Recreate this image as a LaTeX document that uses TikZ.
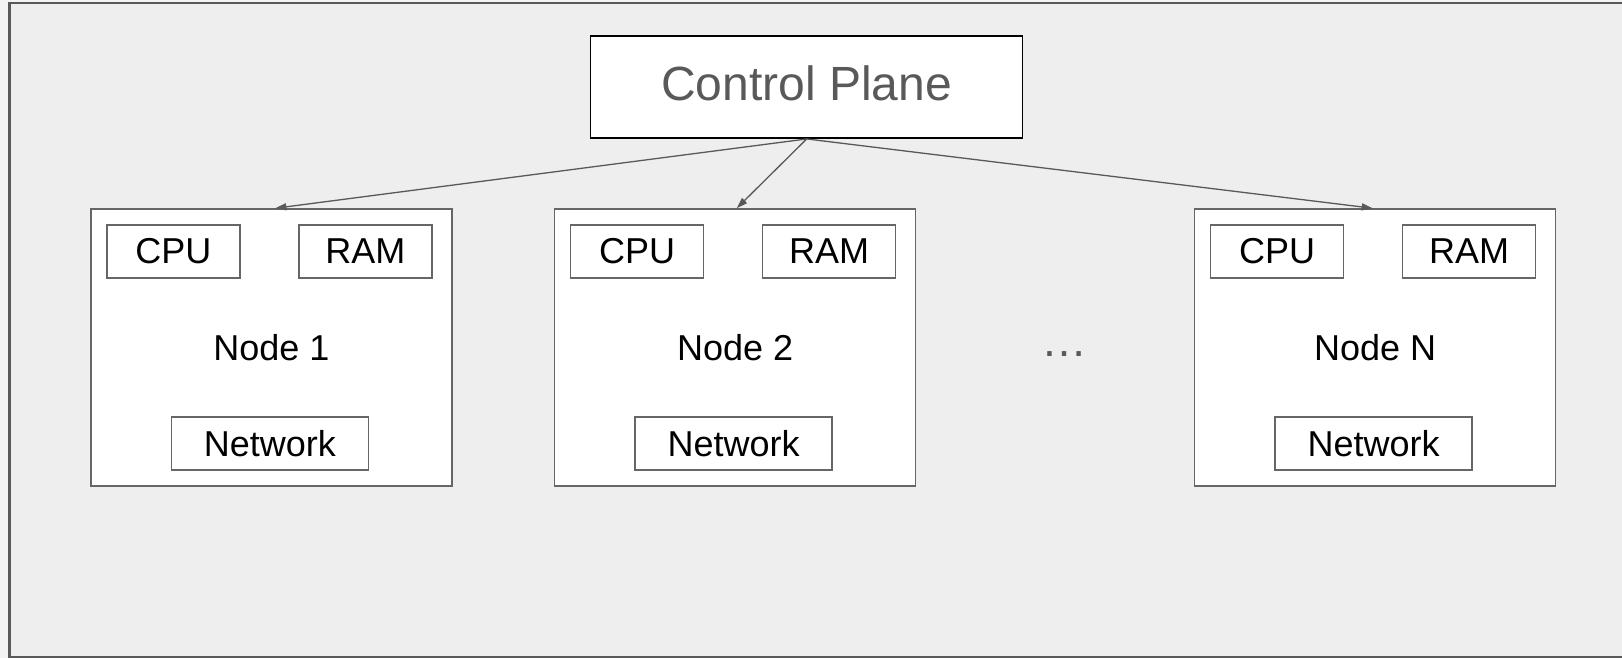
\documentclass[tikz,border=0pt]{standalone}
\usepackage{fontspec}
\setmainfont{Liberation Sans}
\usetikzlibrary{arrows.meta,positioning}

\definecolor{linegray}{HTML}{595959}
\definecolor{boxgray}{HTML}{666666}
\definecolor{bggray}{HTML}{EEEEEE}
\definecolor{pagegray}{HTML}{F3F3F3}

\begin{document}
\begin{tikzpicture}[x=1pt,y=-1pt,
    server/.style={draw=boxgray, line width=1.5pt, fill=white, minimum width=361pt, minimum height=277pt, inner sep=0pt, font=\fontsize{36}{40}\selectfont},
    part/.style={draw=boxgray, line width=1.5pt, fill=white, minimum height=53pt, inner sep=0pt, font=\fontsize{36}{40}\selectfont},
    link/.style={-{Triangle[length=11pt,width=7pt]}, draw=linegray, line width=1.3pt}]
        \useasboundingbox (0,0) rectangle (1622,658);

        % Page and cluster frame
        \fill[pagegray] (0,0) rectangle (1622,658);
        \draw[linegray, line width=2.4pt, fill=bggray] (9.5,2.8) rectangle (1626,657.5);

        % Control plane on top
        \node[draw=black, line width=1.5pt, fill=white, minimum width=432pt, minimum height=102pt, text depth=9pt,
              text=linegray, font=\fontsize{48}{52}\selectfont] (cp) at (806.7,87.2) {Control Plane};

        % Node 1
        \node[server] (n1) at (271.3,347.5) {Node 1};
        \node[part, minimum width=133pt, anchor=north west] (cpu1) at ([shift={(16,16)}]n1.north west) {CPU};
        \node[part, minimum width=133pt, anchor=north east] (ram1) at ([shift={(-20,16)}]n1.north east) {RAM};
        \node[part, minimum width=197pt, anchor=south] (net1) at ([shift={(-1.5,-16)}]n1.south) {Network};

        % Node 2
        \node[server] (n2) at (735.2,347.5) {Node 2};
        \node[part, minimum width=133pt, anchor=north west] (cpu2) at ([shift={(16,16)}]n2.north west) {CPU};
        \node[part, minimum width=133pt, anchor=north east] (ram2) at ([shift={(-20,16)}]n2.north east) {RAM};
        \node[part, minimum width=197pt, anchor=south] (net2) at ([shift={(-1.5,-16)}]n2.south) {Network};

        % the ones in between
        \node[text=linegray, font=\fontsize{46}{50}\selectfont, inner sep=0pt, anchor=base] (dots) at (1064.7,356) {…};

        % Node N
        \node[server] (nN) at (1375.2,347.5) {Node N};
        \node[part, minimum width=133pt, anchor=north west] (cpuN) at ([shift={(16,16)}]nN.north west) {CPU};
        \node[part, minimum width=133pt, anchor=north east] (ramN) at ([shift={(-20,16)}]nN.north east) {RAM};
        \node[part, minimum width=197pt, anchor=south] (netN) at ([shift={(-1.5,-16)}]nN.south) {Network};

        % Control plane talks to every node
        \draw[link] (cp.south) -- ([xshift=4pt]n1.north);
        \draw[link] (cp.south) -- ([xshift=1.5pt]n2.north);
        \draw[link] (cp.south) -- ([xshift=-2.5pt]nN.north);
\end{tikzpicture}
\end{document}
